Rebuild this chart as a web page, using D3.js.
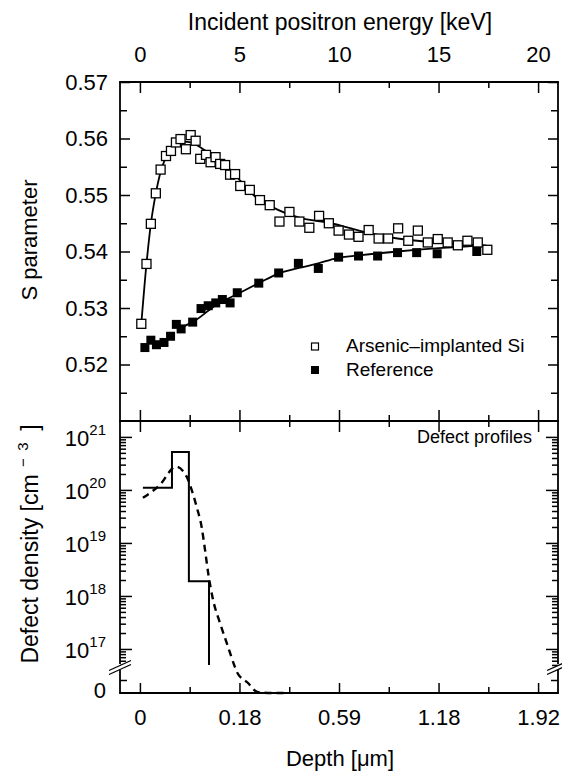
<!DOCTYPE html>
<html>
<head>
<meta charset="utf-8">
<script src="https://cdn.jsdelivr.net/npm/d3@7"></script>
<style>
  body { margin: 0; background: #fff; }
  svg text { font-family: "Liberation Sans", Arial, sans-serif; fill: #000; }
  .axis path { display: none; }
  .axis line { stroke: #000; stroke-width: 1.5; }
</style>
</head>
<body>
<div id="chart"></div>
<script>
// energy axis (keV) and the depth labels printed under the same tick positions
const energyTicks = [0, 5, 10, 15, 20];
const energyMinor = [2.5, 7.5, 12.5, 17.5];
const depthLabels = ["0", "0.18", "0.59", "1.18", "1.92"];
const sTicks = [0.52, 0.53, 0.54, 0.55, 0.56, 0.57];
const sMinor = [0.515, 0.525, 0.535, 0.545, 0.555, 0.565];
const decades = [1e17, 1e18, 1e19, 1e20, 1e21];

// Arsenic-implanted Si (open squares)
const implE = [0.07, 0.33, 0.55, 0.8, 1.04, 1.31, 1.56, 1.81, 2.04, 2.31, 2.55, 2.8, 3.03, 3.32, 3.55, 3.8,
  4.03, 4.28, 4.53, 4.78, 5.04, 5.52, 6.03, 6.52, 7.01, 7.51, 8.01, 8.51, 9.0, 9.49, 9.98, 10.5, 10.98,
  11.49, 11.99, 12.47, 12.97, 13.48, 13.96, 14.46, 14.96, 15.46, 15.97, 16.45, 16.97, 17.45];
const implS = [0.5272, 0.5378, 0.5449, 0.5503, 0.5545, 0.5569, 0.5578, 0.5593, 0.5599, 0.5581, 0.5606, 0.5596,
  0.5564, 0.5571, 0.5558, 0.5567, 0.5555, 0.5553, 0.5536, 0.5537, 0.5516, 0.5509, 0.5491, 0.5482, 0.5453,
  0.5470, 0.5453, 0.5442, 0.5463, 0.5450, 0.5437, 0.5430, 0.5426, 0.5438, 0.5423, 0.5423, 0.5441, 0.5419,
  0.5437, 0.5416, 0.5422, 0.5416, 0.5411, 0.5419, 0.5416, 0.5403];

// Reference (filled squares)
const refE = [0.25, 0.55, 0.83, 1.21, 1.54, 1.83, 2.07, 2.65, 3.07, 3.43, 3.81, 4.14, 4.53, 4.89, 5.97,
  6.97, 7.96, 8.96, 9.98, 10.98, 11.94, 12.94, 13.9, 14.93, 16.92];
const refS = [0.5230, 0.5243, 0.5235, 0.5239, 0.5250, 0.5271, 0.5263, 0.5275, 0.5299, 0.5304, 0.5309,
  0.5315, 0.5309, 0.5327, 0.5344, 0.5362, 0.5379, 0.5370, 0.5390, 0.5392, 0.5392, 0.5398, 0.5398,
  0.5396, 0.5400];

// fitted curves
const implFitE = [0.07, 0.33, 0.55, 0.8, 1.05, 1.3, 1.6, 2.0, 2.4, 2.82, 3.5, 4.31, 5.0, 5.8, 6.63, 8.0,
  9.62, 11.0, 12.94, 15.26, 17.3];
const implFitS = [0.5272, 0.5378, 0.5449, 0.5503, 0.5542, 0.5566, 0.5583, 0.5594, 0.5594, 0.5589, 0.5573,
  0.5553, 0.5527, 0.5497, 0.5479, 0.5460, 0.5450, 0.5437, 0.5423, 0.5415, 0.5411];
const refFitE = [2.0, 2.82, 3.81, 4.97, 5.97, 6.97, 8.0, 8.96, 9.85, 11.0, 12.94, 15.0, 17.4];
const refFitS = [0.5264, 0.5279, 0.5305, 0.5326, 0.5344, 0.5361, 0.5371, 0.5379, 0.5388, 0.5393, 0.5400,
  0.5406, 0.5411];

// defect profiles (x in keV of the shared axis, density in cm^-3)
const boxE = [0.15, 1.61, 2.46, 3.47];
const boxN = [1.1e20, 5.2e20, 1.9e18, 5e16];
const gaussE = [0.15, 1.0, 1.81, 2.35, 2.6, 2.85, 3.1, 3.27, 3.43, 3.68, 4.02, 4.36, 4.77, 4.87, 5.43,
  5.9, 6.6, 7.39];
const gaussN = [7.1e19, 1.24e20, 2.75e20, 1.78e20, 1e20, 4.8e19, 2.0e19, 7.4e18, 2.7e18, 8.3e17, 3.1e17,
  1.3e17, 4.6e16, 3.7e16, 1.76e16, 0.18e16, 0, 0];

const W = 562, H = 775;
const L = 120, R = 558, T = 82, M = 421, B = 693, BRK = 667;

const svg = d3.select("#chart").append("svg").attr("width", W).attr("height", H);

const x = d3.scaleLinear().domain([-1, 21]).range([L, R]);
const yS = d3.scaleLinear().domain([0.51, 0.57]).range([M, T]);
const nBreak = Math.pow(10, 16.66);
const yLog = d3.scaleLog().domain([nBreak, Math.pow(10, 21.3)]).range([BRK, M]);
const yLin = d3.scaleLinear().domain([0, nBreak]).range([B, BRK]);
const yN = v => v >= nBreak ? yLog(v) : yLin(v);

// ---- axes ----
function ax(gen, tx, ty) {
  return svg.append("g").attr("class", "axis").attr("transform", `translate(${tx},${ty})`).call(gen);
}
const big = sel => sel.selectAll("text").attr("font-size", 22);

// top energy axis
big(ax(d3.axisTop(x).tickValues(energyTicks).tickSize(-11).tickPadding(20), 0, T));
ax(d3.axisTop(x).tickValues(energyMinor).tickSize(-6).tickFormat(""), 0, T);
// shared middle axis, ticks both ways
ax(d3.axisTop(x).tickValues(energyTicks).tickSize(11).tickFormat(""), 0, M);
ax(d3.axisBottom(x).tickValues(energyTicks).tickSize(11).tickFormat(""), 0, M);
ax(d3.axisTop(x).tickValues(energyMinor).tickSize(6).tickFormat(""), 0, M);
ax(d3.axisBottom(x).tickValues(energyMinor).tickSize(6).tickFormat(""), 0, M);
// bottom depth axis
big(ax(d3.axisBottom(x).tickValues(energyTicks).tickSize(-10).tickPadding(16)
  .tickFormat((d, i) => depthLabels[i]), 0, B));
ax(d3.axisBottom(x).tickValues(energyMinor).tickSize(-6).tickFormat(""), 0, B);

// S parameter axes
big(ax(d3.axisLeft(yS).tickValues(sTicks).tickSize(-10).tickPadding(12).tickFormat(d3.format(".2f")), L, 0));
ax(d3.axisLeft(yS).tickValues(sMinor).tickSize(-7).tickFormat(""), L, 0);
ax(d3.axisRight(yS).tickValues(sTicks).tickSize(-10).tickFormat(""), R, 0);
ax(d3.axisRight(yS).tickValues(sMinor).tickSize(-7).tickFormat(""), R, 0);

// log density axes
const logMinor = [];
for (let k = 16; k <= 21; k++) {
  for (let m = 2; m <= 9; m++) {
    const v = m * Math.pow(10, k);
    if (v > nBreak * 1.02 && v < yLog.domain()[1] * 0.97) logMinor.push(v);
  }
}
[[d3.axisLeft, L], [d3.axisRight, R]].forEach(([gen, px]) => {
  ax(gen(yLog).tickValues(decades).tickSize(-12).tickFormat(""), px, 0);
  ax(gen(yLog).tickValues(logMinor).tickSize(-6).tickFormat(""), px, 0);
  ax(gen(yLin).tickValues([nBreak / 2]).tickSize(-7).tickFormat(""), px, 0);
});

const decLabels = svg.append("g");
decades.forEach(v => {
  const t = decLabels.append("text")
    .attr("x", 106).attr("y", yLog(v) + 9)
    .attr("text-anchor", "end").attr("font-size", 22);
  t.append("tspan").text("10");
  t.append("tspan").attr("dy", -11).attr("font-size", 15).text(Math.round(Math.log10(v)));
});
decLabels.append("text").attr("x", 106).attr("y", yLin(0) + 5)
  .attr("text-anchor", "end").attr("font-size", 22).text("0");

// ---- frame ----
const frame = svg.append("g").attr("stroke", "#000").attr("stroke-width", 1.8).attr("fill", "none");
[T, M, B].forEach(yy => frame.append("line").attr("x1", L - 0.9).attr("x2", R + 0.9).attr("y1", yy).attr("y2", yy));
[L, R].forEach(xx => {
  frame.append("line").attr("x1", xx).attr("x2", xx).attr("y1", T).attr("y2", BRK - 3);
  frame.append("line").attr("x1", xx).attr("x2", xx).attr("y1", BRK + 3).attr("y2", B);
  // axis break marks
  svg.append("path")
    .attr("d", `M${xx - 11},${BRK + 3.5}L${xx + 11},${BRK - 6.5}L${xx + 11},${BRK - 2.5}L${xx - 11},${BRK + 7.5}Z`)
    .attr("fill", "#fff");
  [BRK + 3.5, BRK + 7.5].forEach(y0 => {
    svg.append("line").attr("x1", xx - 11).attr("y1", y0).attr("x2", xx + 11).attr("y2", y0 - 10)
      .attr("stroke", "#000").attr("stroke-width", 1.3);
  });
});

// ---- upper panel ----
const lineS = d3.line().x(d => x(d[0])).y(d => yS(d[1])).curve(d3.curveMonotoneX);
svg.append("path").datum(refFitE.map((e, i) => [e, refFitS[i]]))
  .attr("d", lineS).attr("fill", "none").attr("stroke", "#000").attr("stroke-width", 1.8);
svg.append("path").datum(implFitE.map((e, i) => [e, implFitS[i]]))
  .attr("d", lineS).attr("fill", "none").attr("stroke", "#000").attr("stroke-width", 1.8);

const sq = 9;
svg.append("g").selectAll("rect")
  .data(refE.map((e, i) => [e, refS[i]]))
  .join("rect")
  .attr("x", d => x(d[0]) - sq / 2).attr("y", d => yS(d[1]) - sq / 2)
  .attr("width", sq).attr("height", sq)
  .attr("fill", "#000");
svg.append("g").selectAll("rect")
  .data(implE.map((e, i) => [e, implS[i]]))
  .join("rect")
  .attr("x", d => x(d[0]) - sq / 2).attr("y", d => yS(d[1]) - sq / 2)
  .attr("width", sq).attr("height", sq)
  .attr("fill", "#fff").attr("stroke", "#000").attr("stroke-width", 1.3);

// legend
const legend = svg.append("g");
legend.append("rect").attr("x", 311.5).attr("y", 343).attr("width", 7).attr("height", 7)
  .attr("fill", "#fff").attr("stroke", "#000").attr("stroke-width", 1.2);
legend.append("rect").attr("x", 311).attr("y", 366).attr("width", 8).attr("height", 8).attr("fill", "#000");
legend.append("text").attr("x", 346).attr("y", 352).attr("font-size", 19).text("Arsenic\u2013implanted Si");
legend.append("text").attr("x", 346).attr("y", 376).attr("font-size", 19).text("Reference");

// ---- lower panel ----
svg.append("path").datum(boxE.map((e, i) => [e, boxN[i]]))
  .attr("d", d3.line().x(d => x(d[0])).y(d => yN(d[1])).curve(d3.curveStepAfter))
  .attr("fill", "none").attr("stroke", "#000").attr("stroke-width", 2);
svg.append("path").datum(gaussE.map((e, i) => [e, gaussN[i]]))
  .attr("d", d3.line().x(d => x(d[0])).y(d => yN(d[1])).curve(d3.curveMonotoneX))
  .attr("fill", "none").attr("stroke", "#000").attr("stroke-width", 2.4)
  .attr("stroke-dasharray", "7,5");

svg.append("text").attr("x", 532).attr("y", 443).attr("text-anchor", "end")
  .attr("font-size", 18).text("Defect profiles");

// ---- titles ----
svg.append("text").attr("x", 340).attr("y", 30).attr("text-anchor", "middle")
  .attr("font-size", 23).text("Incident positron energy [keV]");
svg.append("text").attr("x", 340).attr("y", 766).attr("text-anchor", "middle")
  .attr("font-size", 22).text("Depth [\u03bcm]");
svg.append("text").attr("transform", "translate(37,240) rotate(-90)").attr("text-anchor", "middle")
  .attr("font-size", 22).text("S parameter");
const dd = svg.append("text").attr("transform", "translate(38,544) rotate(-90)").attr("text-anchor", "middle")
  .attr("font-size", 23);
dd.append("tspan").text("Defect density [cm");
dd.append("tspan").attr("dy", -10).attr("font-size", 15).text("\u2002\u2212\u20023");
dd.append("tspan").attr("dy", 10).text("\u2002]");
</script>
</body>
</html>
